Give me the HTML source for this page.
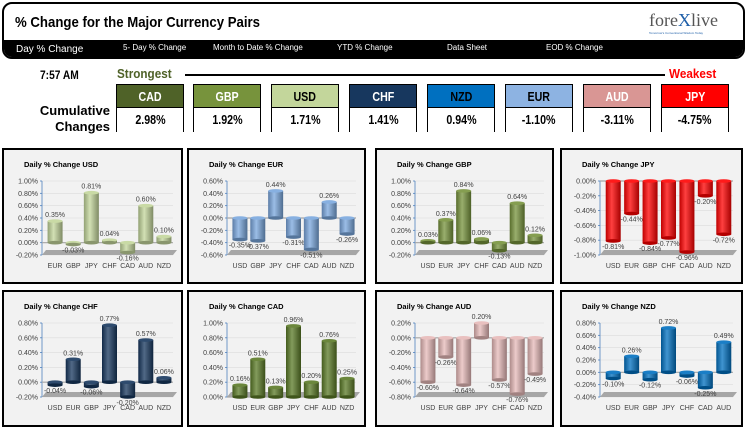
<!DOCTYPE html>
<html><head><meta charset="utf-8"><style>
*{margin:0;padding:0;box-sizing:border-box}
body{width:747px;height:429px;background:#fff;position:relative;overflow:hidden;font-family:"Liberation Sans",sans-serif}
.abs{position:absolute}
.nar{font-family:"Liberation Sans Narrow","Liberation Sans",sans-serif;font-weight:bold}
.nav{position:absolute;top:43px;color:#fff;font-size:8px}
.box{position:absolute;width:68px;top:84px;height:48px;border:1px solid #000}
.box .h{height:23px;text-align:center;font-size:13px;line-height:23px;border-bottom:1px solid #000}
.box .v{height:24px;text-align:center;font-size:13px;line-height:24px;background:#fff;color:#000}
.box span{display:inline-block;transform:scaleX(0.82)}
.panel{position:absolute;background:#f2f2f2;border:2px solid #000}
</style></head><body>
<div class="abs" style="left:2px;top:2px;width:743px;height:57px;border:2px solid #000;border-radius:10px;overflow:hidden;background:#fff">
  <div class="abs nar" style="left:11px;top:10px;font-size:15px;color:#000;transform:scaleX(0.88);transform-origin:left">% Change for the Major Currency Pairs</div>
  <div class="abs" style="left:645px;top:6px;font-family:'Liberation Serif',serif;font-size:18px;color:#555">fore<span style="color:#1f5fa8">X</span>live</div>
  <div class="abs" style="left:645px;top:27px;font-size:3px;color:#1f5fa8">Tomorrow's Conventional Wisdom Today</div>
  <div class="abs" style="left:0;top:36px;width:743px;height:21px;background:#000"></div>
</div>
<div class="nav" style="left:16px;top:44px;font-size:10px">Day % Change</div>
<div class="nav" style="left:123px">5- Day % Change</div>
<div class="nav" style="left:213px">Month to Date % Change</div>
<div class="nav" style="left:337px">YTD % Change</div>
<div class="nav" style="left:447px">Data Sheet</div>
<div class="nav" style="left:546px">EOD % Change</div>

<div class="abs nar" style="left:40px;top:68px;font-size:12px;transform:scaleX(0.85);transform-origin:left">7:57 AM</div>
<div class="abs nar" style="left:117px;top:66px;font-size:13px;color:#4f6228;transform:scaleX(0.9);transform-origin:left">Strongest</div>
<div class="abs" style="left:185px;top:74px;width:480px;height:2px;background:#000"></div>
<div class="abs nar" style="left:669px;top:66px;font-size:13px;color:#ff0000;transform:scaleX(0.9);transform-origin:left">Weakest</div>
<div class="abs nar" style="left:36px;top:103px;font-size:13px;text-align:right;width:74px;line-height:16px">Cumulative<br>Changes</div>

<div class="box nar" style="left:116px"><div class="h" style="background:#4f6228;color:#fff"><span>CAD</span></div><div class="v"><span>2.98%</span></div></div>
<div class="box nar" style="left:193px"><div class="h" style="background:#77933c;color:#fff"><span>GBP</span></div><div class="v"><span>1.92%</span></div></div>
<div class="box nar" style="left:271px"><div class="h" style="background:#c3d69b;color:#000"><span>USD</span></div><div class="v"><span>1.71%</span></div></div>
<div class="box nar" style="left:349px"><div class="h" style="background:#17375e;color:#fff"><span>CHF</span></div><div class="v"><span>1.41%</span></div></div>
<div class="box nar" style="left:427px"><div class="h" style="background:#0070c0;color:#000"><span>NZD</span></div><div class="v"><span>0.94%</span></div></div>
<div class="box nar" style="left:505px"><div class="h" style="background:#8db3e2;color:#000"><span>EUR</span></div><div class="v"><span>-1.10%</span></div></div>
<div class="box nar" style="left:583px"><div class="h" style="background:#d99694;color:#fff"><span>AUD</span></div><div class="v"><span>-3.11%</span></div></div>
<div class="box nar" style="left:661px"><div class="h" style="background:#ff0000;color:#fff"><span>JPY</span></div><div class="v"><span>-4.75%</span></div></div>

<div id="charts"></div>
<script>
const usdCats=["EUR","GBP","JPY","CHF","CAD","AUD","NZD"];
const usdVals=[0.35,-0.03,0.81,0.04,-0.16,0.60,0.10];
const usdTicks=[-0.2,0,0.2,0.4,0.6,0.8,1.0];
const eurCats=["USD","GBP","JPY","CHF","CAD","AUD","NZD"];
const eurVals=[-0.35,-0.37,0.44,-0.31,-0.51,0.26,-0.26];
const eurTicks=[-0.6,-0.4,-0.2,0,0.2,0.4,0.6];
const gbpCats=["USD","EUR","JPY","CHF","CAD","AUD","NZD"];
const gbpVals=[0.03,0.37,0.84,0.06,-0.13,0.64,0.12];
const gbpTicks=[-0.2,0,0.2,0.4,0.6,0.8,1.0];
const jpyCats=["USD","EUR","GBP","CHF","CAD","AUD","NZD"];
const jpyVals=[-0.81,-0.44,-0.84,-0.77,-0.96,-0.20,-0.72];
const jpyTicks=[-1.0,-0.8,-0.6,-0.4,-0.2,0];
const chfCats=["USD","EUR","GBP","JPY","CAD","AUD","NZD"];
const chfVals=[-0.04,0.31,-0.06,0.77,-0.20,0.57,0.06];
const chfTicks=[-0.2,0,0.2,0.4,0.6,0.8];
const cadCats=["USD","EUR","GBP","JPY","CHF","AUD","NZD"];
const cadVals=[0.16,0.51,0.13,0.96,0.20,0.76,0.25];
const cadTicks=[0,0.2,0.4,0.6,0.8,1.0];
const audCats=["USD","EUR","GBP","JPY","CHF","CAD","NZD"];
const audVals=[-0.60,-0.26,-0.64,0.20,-0.57,-0.76,-0.49];
const audTicks=[-0.8,-0.6,-0.4,-0.2,0,0.2];
const nzdCats=["USD","EUR","GBP","JPY","CHF","CAD","AUD"];
const nzdVals=[-0.10,0.26,-0.12,0.72,-0.06,-0.25,0.49];
const nzdTicks=[-0.4,-0.2,0,0.2,0.4,0.6,0.8];

const panels=[
 {id:"usd",t:"Daily % Change USD",c:usdCats,v:usdVals,k:usdTicks,col:"#c3d69b",x:2,y:148,w:181,h:136},
 {id:"eur",t:"Daily % Change EUR",c:eurCats,v:eurVals,k:eurTicks,col:"#7aa7de",x:187,y:148,w:179,h:136},
 {id:"gbp",t:"Daily % Change GBP",c:gbpCats,v:gbpVals,k:gbpTicks,col:"#77933c",x:375,y:148,w:179,h:136},
 {id:"jpy",t:"Daily % Change JPY",c:jpyCats,v:jpyVals,k:jpyTicks,col:"#ff0000",x:560,y:148,w:183,h:136},
 {id:"chf",t:"Daily % Change CHF",c:chfCats,v:chfVals,k:chfTicks,col:"#17375e",x:2,y:290,w:181,h:137},
 {id:"cad",t:"Daily % Change CAD",c:cadCats,v:cadVals,k:cadTicks,col:"#5a7a26",x:187,y:290,w:179,h:137},
 {id:"aud",t:"Daily % Change AUD",c:audCats,v:audVals,k:audTicks,col:"#e6b9b8",x:375,y:290,w:179,h:137},
 {id:"nzd",t:"Daily % Change NZD",c:nzdCats,v:nzdVals,k:nzdTicks,col:"#0070c0",x:560,y:290,w:183,h:137}
];
const NS="http://www.w3.org/2000/svg";
function mk(tag,attrs,parent){const e=document.createElementNS(NS,tag);for(const a in attrs)e.setAttribute(a,attrs[a]);parent.appendChild(e);return e;}
function shade(hex,f){const n=parseInt(hex.slice(1),16);let r=n>>16,g=(n>>8)&255,b=n&255;
 const m=c=>Math.round(f>0?c+(255-c)*f:c*(1+f));return `rgb(${m(r)},${m(g)},${m(b)})`;}
const root=document.getElementById('charts');
panels.forEach(p=>{
 const d=document.createElement('div');d.className='panel';
 
 
 d.style.cssText=`left:${p.x}px;top:${p.y}px;width:${p.w}px;height:${p.h}px`;
 root.appendChild(d);
 const W=p.w-4,H=p.h-4;
 const s=mk('svg',{width:W,height:H},d);s.style.display='block';
 const defs=mk('defs',{},s);
 const g=mk('linearGradient',{id:'g'+p.id,x1:0,x2:1,y1:0,y2:0},defs);
 mk('stop',{offset:'0',  'stop-color':shade(p.col,-0.25)},g);
 mk('stop',{offset:'0.4','stop-color':shade(p.col,0.25)},g);
 mk('stop',{offset:'1',  'stop-color':shade(p.col,-0.35)},g);
 const title=mk('text',{x:20,y:17,'font-size':7.5,'font-weight':'bold',fill:'#000'},s);title.textContent=p.t;
 
 
 const min=p.k[0],max=p.k[p.k.length-1];
 const top=31,bot=105,ax=38,right=W-8;
 const y=v=>bot-(v-min)/(max-min)*(bot-top);
 p.k.forEach(t=>{
  mk('line',{x1:ax,x2:right,y1:y(t),y2:y(t),stroke:'#dcdcdc','stroke-width':0.6},s);
  const tl=mk('text',{x:ax-4,y:y(t)+2.5,'font-size':7,'text-anchor':'end',fill:'#404040'},s);
  tl.textContent=t.toFixed(2)+'%';
  
  
  mk('line',{x1:ax-2,x2:ax,y1:y(t),y2:y(t),stroke:'#4f81bd','stroke-width':0.8},s);
 });
 mk('line',{x1:ax,x2:ax,y1:top,y2:bot,stroke:'#4f81bd','stroke-width':0.8},s);
 mk('polygon',{points:`${ax},${bot} ${right},${bot} ${right+4},${bot-5} ${ax+4},${bot-5}`,fill:'#a6a6a6'},s);
 mk('line',{x1:ax,x2:right,y1:y(0),y2:y(0),stroke:'#a6a6a6','stroke-width':1.2},s);
 const step=(right-ax-4)/p.c.length;
 p.c.forEach((c,i)=>{
  const cx=ax+4+step*(i+0.5),v=p.v[i],bw=15;
  const y0=y(0),y1=y(v);
  const b=mk('rect',{x:cx-bw/2,y:Math.min(y0,y1),width:bw,height:Math.max(1,Math.abs(y1-y0)),fill:`url(#g${p.id})`},s);
  
  
  mk('ellipse',{cx:cx,cy:y(Math.max(v,0)),rx:bw/2,ry:1.8,fill:shade(p.col,0.1)},s);
  mk('ellipse',{cx:cx,cy:y(Math.min(v,0)),rx:bw/2,ry:1.8,fill:shade(p.col,-0.3)},s);
  const vl=mk('text',{x:cx,y:v>=0?y1-4:y1+8,'font-size':7,'text-anchor':'middle',fill:'#404040'},s);
  vl.textContent=v.toFixed(2)+'%';
  
  
  const cl=mk('text',{x:cx,y:bot+13,'font-size':7,'text-anchor':'middle',fill:'#404040'},s);
  cl.textContent=c;
  
  
 });
});
</script>
</body></html>
